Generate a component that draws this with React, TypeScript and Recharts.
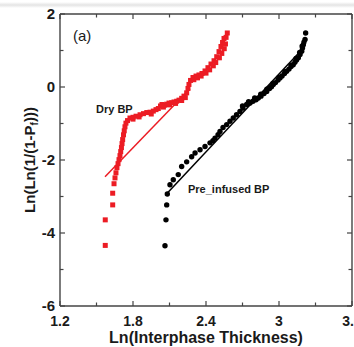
import React from 'react';
import { ScatterChart, Scatter, XAxis, YAxis } from 'recharts';

// ---- data ----
const dryX = [1.572, 1.572, 1.633, 1.633, 1.644, 1.652, 1.660, 1.668, 1.677, 1.685, 1.693, 1.699, 1.705, 1.710, 1.715, 1.722, 1.728, 1.734, 1.742, 1.755, 1.775, 1.800, 1.825, 1.858, 1.886, 1.913, 1.940, 1.967, 1.989, 2.008, 2.026, 2.038, 2.059, 2.077, 2.096, 2.118, 2.137, 2.159, 2.178, 2.200, 2.219, 2.241, 2.252, 2.260, 2.273, 2.293, 2.318, 2.342, 2.367, 2.392, 2.416, 2.441, 2.466, 2.488, 2.507, 2.523, 2.536, 2.548, 2.575,
  1.80, 1.85, 1.95, 2.05, 2.10, 2.15, 2.20, 2.23, 2.30, 2.33, 2.36, 2.40, 2.43, 2.46, 2.48, 2.51, 2.53, 2.55, 2.56, 2.565];
const dryY = [-4.34, -3.64, -3.23, -2.91, -2.65, -2.49, -2.35, -2.21, -2.10, -1.99, -1.88, -1.77, -1.66, -1.55, -1.44, -1.31, -1.20, -1.09, -0.99, -0.92, -0.85, -0.83, -0.80, -0.76, -0.73, -0.70, -0.69, -0.66, -0.62, -0.59, -0.52, -0.48, -0.50, -0.47, -0.44, -0.43, -0.41, -0.39, -0.36, -0.31, -0.25, -0.16, -0.04, 0.07, 0.18, 0.26, 0.30, 0.33, 0.37, 0.44, 0.53, 0.63, 0.72, 0.83, 0.97, 1.11, 1.22, 1.33, 1.48,
  -0.88, -0.82, -0.74, -0.55, -0.49, -0.45, -0.37, -0.29, 0.20, 0.25, 0.30, 0.38, 0.47, 0.58, 0.67, 0.80, 0.92, 1.05, 1.18, 1.36];

const preX = [2.063, 2.071, 2.077, 2.082, 2.104, 2.131, 2.172, 2.200, 2.241, 2.282, 2.310, 2.351, 2.392, 2.433, 2.457, 2.474, 2.499, 2.515, 2.540, 2.570, 2.597, 2.624, 2.651, 2.679, 2.704, 2.734, 2.762, 2.786, 2.811, 2.830, 2.852, 2.877, 2.899, 2.922, 2.938, 2.953, 2.971, 2.992, 3.008, 3.025, 3.045, 3.063, 3.082, 3.099, 3.117, 3.131, 3.144, 3.159, 3.173, 3.187, 3.193, 3.200, 3.205, 3.214, 3.219,
  2.70, 2.75, 2.80, 2.85, 2.90, 2.95, 3.00, 3.05, 3.10, 3.14, 3.17, 3.19];
const preY = [-4.35, -3.64, -3.23, -2.93, -2.68, -2.54, -2.40, -2.18, -2.05, -1.91, -1.81, -1.72, -1.63, -1.53, -1.47, -1.40, -1.31, -1.22, -1.11, -1.03, -0.94, -0.85, -0.76, -0.67, -0.58, -0.48, -0.44, -0.39, -0.35, -0.30, -0.25, -0.18, -0.12, -0.04, 0.01, 0.07, 0.12, 0.19, 0.25, 0.30, 0.37, 0.43, 0.49, 0.56, 0.61, 0.68, 0.74, 0.80, 0.89, 0.98, 1.07, 1.16, 1.23, 1.30, 1.48,
  -0.52, -0.40, -0.30, -0.20, -0.06, 0.10, 0.26, 0.42, 0.60, 0.78, 0.95, 1.12];

const dryFitX = [1.570, 2.268];
const dryFitY = [-2.46, -0.05];
const preFitX = [2.079, 3.17];
const preFitY = [-2.92, 0.96];

const xTicks = [1.2, 1.5, 1.8, 2.1, 2.4, 2.7, 3.0, 3.3, 3.6];
const xTickLabels = ['1.2', '', '1.8', '', '2.4', '', '3', '', '3.6'];
const yTicks = [-6, -5, -4, -3, -2, -1, 0, 1, 2];
const yTickLabels = ['-6', '', '-4', '', '-2', '', '0', '', '2'];

const toPts = (xs: number[], ys: number[]) => xs.map((x, i) => ({ x, y: ys[i] }));
const dryData = toPts(dryX, dryY);
const preData = toPts(preX, preY);
const dryFit = toPts(dryFitX, dryFitY);
const preFit = toPts(preFitX, preFitY);

const RED = '#ec1c24';
const AXIS = '#444';
const FONT = '"Liberation Sans", Arial, sans-serif';

const labelFor = (v: number, ticks: number[], labels: string[]) => {
  const i = ticks.findIndex((t) => Math.abs(t - v) < 1e-6);
  return i >= 0 ? labels[i] : '';
};

const BottomTick = (p: any) => {
  const lab = labelFor(p.payload.value, xTicks, xTickLabels);
  const len = lab ? 5 : 3.5;
  return (
    <g>
      <line x1={p.x} x2={p.x} y1={p.y} y2={p.y - len} stroke={AXIS} strokeWidth={1.2} />
      {lab && (
        <text x={p.x} y={p.y + 20} textAnchor="middle" fontFamily={FONT} fontWeight="bold" fontSize={14} fill="#1a1a1a">
          {lab}
        </text>
      )}
    </g>
  );
};
const TopTick = (p: any) => {
  const lab = labelFor(p.payload.value, xTicks, xTickLabels);
  const len = lab ? 5 : 3.5;
  return <line x1={p.x} x2={p.x} y1={p.y} y2={p.y + len} stroke={AXIS} strokeWidth={1.2} />;
};
const LeftTick = (p: any) => {
  const lab = labelFor(p.payload.value, yTicks, yTickLabels);
  const len = lab ? 5 : 3.5;
  return (
    <g>
      <line x1={p.x} x2={p.x + len} y1={p.y} y2={p.y} stroke={AXIS} strokeWidth={1.2} />
      {lab && (
        <text x={55} y={p.y} dy="0.36em" textAnchor="end" fontFamily={FONT} fontWeight="bold" fontSize={15} fill="#1a1a1a">
          {lab}
        </text>
      )}
    </g>
  );
};
const RightTick = (p: any) => {
  const lab = labelFor(p.payload.value, yTicks, yTickLabels);
  const len = lab ? 5 : 3.5;
  return <line x1={p.x} x2={p.x - len} y1={p.y} y2={p.y} stroke={AXIS} strokeWidth={1.2} />;
};

const Square = (p: any) => <rect x={p.cx - 2.5} y={p.cy - 2.5} width={5} height={5} fill={RED} />;
const Dot = (p: any) => <circle cx={p.cx} cy={p.cy} r={2.7} fill="#000" />;
const NoShape = () => <g />;

export default function App() {
  return (
    <div style={{ position: 'absolute', left: 0, top: 0, width: 354, height: 347, background: '#fff' }}>
      <div style={{ position: 'absolute', left: 0, top: 2, width: 354, height: 6, background: 'linear-gradient(#fff, #e4e4e4 50%, #fff)' }} />
      <div style={{ position: 'absolute', left: 0, top: 0 }}>
        <ScatterChart width={354} height={347} margin={{ top: 13, right: 1, bottom: 0, left: 0 }}>
          <XAxis xAxisId="b" dataKey="x" type="number" domain={[1.2, 3.6]} ticks={xTicks} interval={0}
            orientation="bottom" height={41} tickSize={0} tickMargin={0} tickLine={false}
            axisLine={{ stroke: AXIS, strokeWidth: 1.4 }} tick={<BottomTick />} allowDataOverflow />
          <XAxis xAxisId="t" dataKey="x" type="number" domain={[1.2, 3.6]} ticks={xTicks} interval={0}
            orientation="top" height={1} tickSize={0} tickMargin={0} tickLine={false}
            axisLine={{ stroke: AXIS, strokeWidth: 1.4 }} tick={<TopTick />} allowDataOverflow />
          <YAxis yAxisId="l" dataKey="y" type="number" domain={[-6, 2]} ticks={yTicks} interval={0}
            orientation="left" width={60} tickSize={0} tickMargin={0} tickLine={false}
            axisLine={{ stroke: AXIS, strokeWidth: 1.4 }} tick={<LeftTick />} allowDataOverflow />
          <YAxis yAxisId="r" dataKey="y" type="number" domain={[-6, 2]} ticks={yTicks} interval={0}
            orientation="right" width={1} tickSize={0} tickMargin={0} tickLine={false}
            axisLine={{ stroke: AXIS, strokeWidth: 1.4 }} tick={<RightTick />} allowDataOverflow />
          <Scatter xAxisId="b" yAxisId="l" data={dryFit} line={{ stroke: RED, strokeWidth: 1.5 }} shape={<NoShape />} isAnimationActive={false} />
          <Scatter xAxisId="b" yAxisId="l" data={dryData} shape={<Square />} isAnimationActive={false} />
          <Scatter xAxisId="b" yAxisId="l" data={preData} shape={<Dot />} isAnimationActive={false} />
          <Scatter xAxisId="b" yAxisId="l" data={preFit} line={{ stroke: '#000', strokeWidth: 1.5 }} shape={<NoShape />} isAnimationActive={false} />
          <Scatter xAxisId="t" yAxisId="r" data={dryFit} shape={<NoShape />} isAnimationActive={false} />
        </ScatterChart>
      </div>
      <svg width={354} height={347} style={{ position: 'absolute', left: 0, top: 0, pointerEvents: 'none' }} fontFamily={FONT}>
        <text x={73} y={41} fontSize={15} fill="#1a1a1a">(a)</text>
        <text x={96} y={113} fontSize={11} fontWeight="bold" fill="#1a1a1a">Dry BP</text>
        <text x={188} y={193} fontSize={11} fontWeight="bold" fill="#1a1a1a">Pre_infused BP</text>
        <text x={206} y={343} textAnchor="middle" fontSize={16} fontWeight="bold" fill="#1a1a1a">Ln(Interphase Thickness)</text>
        <text transform="translate(35,160) rotate(-90)" textAnchor="middle" fontSize={15} fontWeight="bold" fill="#1a1a1a">
          Ln(Ln(1/(1-P<tspan fontSize={10} dy={3}>f</tspan><tspan dy={-3}>)))</tspan>
        </text>
      </svg>
    </div>
  );
}
